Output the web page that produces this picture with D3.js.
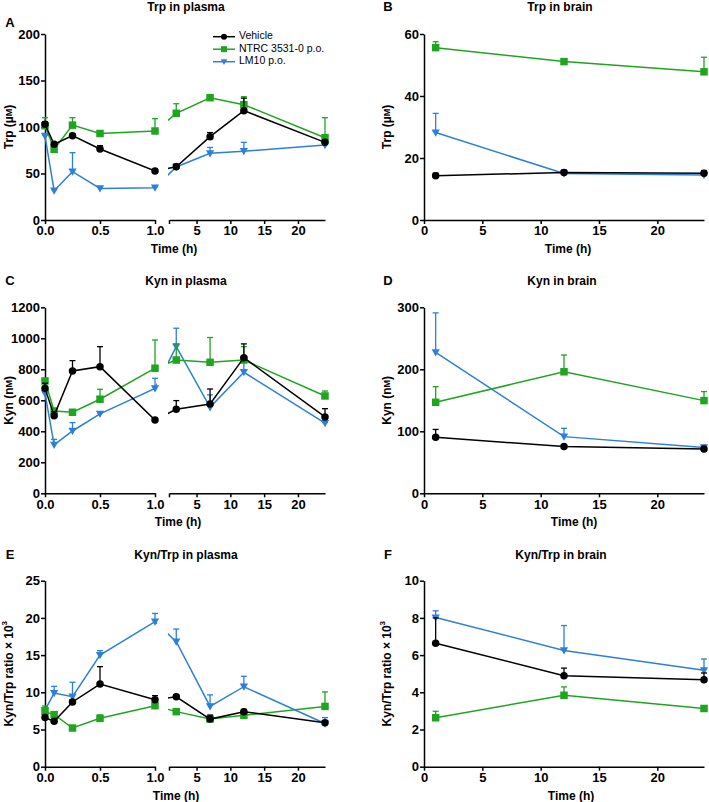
<!DOCTYPE html>
<html><head><meta charset="utf-8">
<script src="https://cdn.jsdelivr.net/npm/d3@7"></script>
<style>body{margin:0;background:#fff}svg{display:block}text{font-family:"Liberation Sans",Arial,sans-serif}</style>
</head><body>
<svg id="c" width="709" height="802"></svg>
<script>
// ---- data ----
const plasmaTimes = [0, 0.083, 0.25, 0.5, 1, 2, 7, 12, 24];
const brainTimes = [1, 12, 24];
const seriesNames = ["Vehicle", "NTRC 3531-0 p.o.", "LM10 p.o."];

const trpPlasmaVehicle = [103, 81.5, 90.7, 76.3, 52.7, 57.3, 89.6, 117.6, 83.5];
const trpPlasmaVehicleErr = [2.7, 1.5, 2.3, 3.7, 1, 2.7, 4.4, 13.4, 2.5];
const trpPlasmaNtrc = [101.4, 76, 102, 93, 95.7, 114.7, 131.5, 124, 88.5];
const trpPlasmaNtrcErr = [8.6, 1.5, 8, 2, 13.3, 10.3, 1.5, 8.6, 21.5];
const trpPlasmaLm10 = [90.3, 31.5, 52, 34, 34.8, 57, 71.7, 74, 80.6];
const trpPlasmaLm10Err = [1, 1, 20.4, 1, 1, 1, 6.3, 9.5, 1];

const trpBrainVehicle = [14.3, 15.3, 15.05];
const trpBrainVehicleErr = [0.8, 0.8, 0.9];
const trpBrainNtrc = [55.6, 51.1, 47.8];
const trpBrainNtrcErr = [1.9, 0.9, 4.7];
const trpBrainLm10 = [28.2, 15.0, 14.5];
const trpBrainLm10Err = [6.2, 0.5, 0.5];

const kynPlasmaVehicle = [677, 501, 789, 817, 473, 542, 576, 875, 493];
const kynPlasmaVehicleErr = [33, 26, 67, 129, 10, 56, 97, 89, 53];
const kynPlasmaNtrc = [725, 531, 523, 607, 807, 860, 845, 860, 628];
const kynPlasmaNtrcErr = [8, 5, 5, 64, 182, 104, 160, 86, 32];
const kynPlasmaLm10 = [645, 312, 402, 512, 677, 946, 555, 781, 452];
const kynPlasmaLm10Err = [5, 36, 54, 8, 65, 119, 80, 73, 5];

const kynBrainVehicle = [90.3, 75.3, 71.5];
const kynBrainVehicleErr = [12.7, 3, 2.5];
const kynBrainNtrc = [146.8, 196, 149.5];
const kynBrainNtrcErr = [25.2, 27, 14.5];
const kynBrainLm10 = [227.4, 91.4, 73.7];
const kynBrainLm10Err = [63.6, 13.4, 4.3];

const ratioPlasmaVehicle = [6.6, 6.1, 8.7, 11.1, 9.0, 9.4, 6.4, 7.4, 5.9];
const ratioPlasmaVehicleErr = [0.3, 0.3, 0.3, 2.35, 0.55, 0.3, 0.55, 0.3, 0.3];
const ratioPlasmaNtrc = [7.4, 7.0, 5.2, 6.5, 8.2, 7.4, 6.4, 6.9, 8.1];
const ratioPlasmaNtrcErr = [0.75, 0.3, 0.2, 0.45, 0.3, 0.2, 0.2, 0.2, 1.95];
const ratioPlasmaLm10 = [7.6, 9.9, 9.4, 15.0, 19.5, 16.8, 8.1, 10.75, 5.8];
const ratioPlasmaLm10Err = [0.3, 0.9, 1.95, 0.6, 1.1, 1.7, 1.55, 1.4, 0.8];

const ratioBrainVehicle = [6.64, 4.89, 4.68];
const ratioBrainVehicleErr = [1.36, 0.41, 0.36];
const ratioBrainNtrc = [2.63, 3.84, 3.13];
const ratioBrainNtrcErr = [0.35, 0.45, 0.1];
const ratioBrainLm10 = [8.02, 6.25, 5.18];
const ratioBrainLm10Err = [0.36, 1.34, 0.61];

const leftTicks = [0, 0.5, 1];
const rightTicks = [5, 10, 15, 20];
const brainTicks = [0, 5, 10, 15, 20];

// ---- style ----
const colors = {"Vehicle": "#000000", "NTRC 3531-0 p.o.": "#1fa51f", "LM10 p.o.": "#2e7fd9"};
const shapes = {"Vehicle": "circle", "NTRC 3531-0 p.o.": "square", "LM10 p.o.": "tri"};
const svg = d3.select("#c");
const defs = svg.append("defs");

function marker(g, shape, x, y, s, col) {
  if (shape === "circle") g.append("circle").attr("cx", x).attr("cy", y).attr("r", s * 0.5).attr("fill", col);
  else if (shape === "square") g.append("rect").attr("x", x - s / 2).attr("y", y - s / 2).attr("width", s).attr("height", s).attr("fill", col);
  else g.append("path").attr("d", `M${x - s * 0.55},${y - s * 0.42}L${x + s * 0.55},${y - s * 0.42}L${x},${y + s * 0.55}Z`).attr("fill", col);
}

function styleAxis(g) {
  g.selectAll("path,line").attr("stroke", "#000").attr("stroke-width", 1.5);
  g.selectAll("text").attr("font-size", 13).attr("font-weight", "bold").attr("fill", "#000");
}

function unitLabel(t, pre, unitPrefix) {
  t.text(pre + " (" + unitPrefix);
  t.append("tspan").attr("font-size", 9).text("M");
  t.append("tspan").text(")");
}

let clipId = 0;
function panel(cfg) {
  const g = svg.append("g");
  const y = d3.scaleLinear().domain([0, cfg.ymax]).range([cfg.bottom, cfg.top]);
  let xPos, clipRects;
  if (cfg.broken) {
    const xl = d3.scaleLinear().domain([0, 1]).range([cfg.left, cfg.left + 110]);
    const xr = d3.scaleLinear().domain([1, 24]).range([cfg.left + 124.5, cfg.left + 280]);
    xPos = t => t <= 1 ? xl(t) : xr(t);
    const ax1 = g.append("g").attr("transform", `translate(0,${cfg.bottom})`)
      .call(d3.axisBottom(xl).tickValues(leftTicks).tickFormat(d3.format(".1f")).tickSize(4).tickSizeOuter(0).tickPadding(2));
    styleAxis(ax1);
    const ax2 = g.append("g").attr("transform", `translate(0,${cfg.bottom})`)
      .call(d3.axisBottom(xr).tickValues(rightTicks).tickFormat(d3.format("d")).tickSize(4).tickSizeOuter(0).tickPadding(2));
    ax2.append("line").attr("x1", xr(1)).attr("x2", xr(1)).attr("y1", 0).attr("y2", 4);
    styleAxis(ax2);
    clipRects = [[0, cfg.left + 112], [cfg.left + 123, 709]];
  } else {
    const xs = d3.scaleLinear().domain([0, 24]).range([cfg.left, cfg.left + 280]);
    xPos = t => xs(t);
    const ax = g.append("g").attr("transform", `translate(0,${cfg.bottom})`)
      .call(d3.axisBottom(xs).tickValues(brainTicks).tickFormat(d3.format("d")).tickSize(4).tickSizeOuter(0).tickPadding(2));
    styleAxis(ax);
    clipRects = [[0, 709]];
  }
  const ay = g.append("g").attr("transform", `translate(${cfg.left},0)`)
    .call(d3.axisLeft(y).tickValues(d3.range(0, cfg.ymax + 1e-9, cfg.ystep)).tickFormat(d3.format("d")).tickSize(4).tickSizeOuter(0).tickPadding(1));
  styleAxis(ay);

  const id = "clip" + (clipId++);
  const cp = defs.append("clipPath").attr("id", id);
  clipRects.forEach(r => cp.append("rect").attr("x", r[0]).attr("y", 0).attr("width", r[1] - r[0]).attr("height", 802));

  const order = [2, 1, 0];
  order.forEach(i => {
    const name = seriesNames[i];
    const col = colors[name];
    const vals = cfg.series[i], errs = cfg.errors[i];
    const pts = cfg.times.map((t, k) => [xPos(t), y(vals[k])]);
    g.append("path").attr("d", d3.line()(pts)).attr("fill", "none").attr("stroke", col)
      .attr("stroke-width", 1.5).attr("clip-path", `url(#${id})`);
    cfg.times.forEach((t, k) => {
      const x = xPos(t), y0 = y(vals[k]), y1 = y(vals[k] + errs[k]);
      g.append("line").attr("x1", x).attr("x2", x).attr("y1", y0).attr("y2", y1).attr("stroke", col).attr("stroke-width", 1.3);
      g.append("line").attr("x1", x - 3).attr("x2", x + 3).attr("y1", y1).attr("y2", y1).attr("stroke", col).attr("stroke-width", 1.3);
    });
    cfg.times.forEach((t, k) => marker(g, shapes[name], xPos(t), y(vals[k]), 7.5, col));
  });

  // texts
  g.append("text").attr("x", cfg.titleX).attr("y", cfg.titleY).attr("text-anchor", "middle").attr("dominant-baseline", "middle")
    .attr("font-size", 12).attr("font-weight", "bold").text(cfg.title);
  g.append("text").attr("x", cfg.letterX).attr("y", cfg.letterY).attr("text-anchor", "middle").attr("dominant-baseline", "middle")
    .attr("font-size", 13).attr("font-weight", "bold").text(cfg.letter);
  g.append("text").attr("x", cfg.xlabX).attr("y", cfg.bottom + 30).attr("text-anchor", "middle").attr("dominant-baseline", "middle")
    .attr("font-size", 12).attr("font-weight", "bold").text("Time (h)");
  const yl = g.append("text").attr("transform", `translate(${cfg.ylabX},${(cfg.top + cfg.bottom) / 2}) rotate(-90)`)
    .attr("text-anchor", "middle").attr("dominant-baseline", "middle").attr("font-size", 12).attr("font-weight", "bold");
  cfg.ylab(yl);
  return g;
}

const trpLab = t => unitLabel(t, "Trp", "µ");
const kynLab = t => unitLabel(t, "Kyn", "n");
const ratioLab = t => { t.text("Kyn/Trp ratio × 10"); t.append("tspan").attr("font-size", 8).attr("dy", -5).text("3"); };

panel({broken: true, left: 45, top: 34, bottom: 220, ymax: 200, ystep: 50, times: plasmaTimes,
  series: [trpPlasmaVehicle, trpPlasmaNtrc, trpPlasmaLm10], errors: [trpPlasmaVehicleErr, trpPlasmaNtrcErr, trpPlasmaLm10Err],
  title: "Trp in plasma", titleX: 186, titleY: 8, letter: "A", letterX: 10, letterY: 24, xlabX: 174, ylabX: 10, ylab: trpLab});
panel({broken: false, left: 424, top: 34, bottom: 220, ymax: 60, ystep: 20, times: brainTimes,
  series: [trpBrainVehicle, trpBrainNtrc, trpBrainLm10], errors: [trpBrainVehicleErr, trpBrainNtrcErr, trpBrainLm10Err],
  title: "Trp in brain", titleX: 560, titleY: 8, letter: "B", letterX: 388, letterY: 8, xlabX: 568, ylabX: 388, ylab: trpLab});
panel({broken: true, left: 45, top: 307.3, bottom: 493.3, ymax: 1200, ystep: 200, times: plasmaTimes,
  series: [kynPlasmaVehicle, kynPlasmaNtrc, kynPlasmaLm10], errors: [kynPlasmaVehicleErr, kynPlasmaNtrcErr, kynPlasmaLm10Err],
  title: "Kyn in plasma", titleX: 186, titleY: 282, letter: "C", letterX: 10, letterY: 282, xlabX: 178, ylabX: 10, ylab: kynLab});
panel({broken: false, left: 424, top: 307.3, bottom: 493.3, ymax: 300, ystep: 100, times: brainTimes,
  series: [kynBrainVehicle, kynBrainNtrc, kynBrainLm10], errors: [kynBrainVehicleErr, kynBrainNtrcErr, kynBrainLm10Err],
  title: "Kyn in brain", titleX: 562, titleY: 282, letter: "D", letterX: 388, letterY: 282, xlabX: 574, ylabX: 388, ylab: kynLab});
panel({broken: true, left: 45, top: 580.7, bottom: 766.7, ymax: 25, ystep: 5, times: plasmaTimes,
  series: [ratioPlasmaVehicle, ratioPlasmaNtrc, ratioPlasmaLm10], errors: [ratioPlasmaVehicleErr, ratioPlasmaNtrcErr, ratioPlasmaLm10Err],
  title: "Kyn/Trp in plasma", titleX: 186, titleY: 556, letter: "E", letterX: 10, letterY: 556, xlabX: 176, ylabX: 10, ylab: ratioLab});
panel({broken: false, left: 424, top: 580.7, bottom: 766.7, ymax: 10, ystep: 2, times: brainTimes,
  series: [ratioBrainVehicle, ratioBrainNtrc, ratioBrainLm10], errors: [ratioBrainVehicleErr, ratioBrainNtrcErr, ratioBrainLm10Err],
  title: "Kyn/Trp in brain", titleX: 561, titleY: 556, letter: "F", letterX: 388, letterY: 556, xlabX: 571, ylabX: 388, ylab: ratioLab});

// legend (panel A)
const lg = svg.append("g");
seriesNames.forEach((name, i) => {
  const yy = 36.7 + i * 12.5;
  lg.append("line").attr("x1", 213).attr("x2", 235).attr("y1", yy).attr("y2", yy).attr("stroke", colors[name]).attr("stroke-width", 1.5);
  marker(lg, shapes[name], 224, yy, 6, colors[name]);
  lg.append("text").attr("x", 239).attr("y", yy).attr("dominant-baseline", "middle").attr("font-size", 10.5).text(name);
});
</script>
</body></html>
